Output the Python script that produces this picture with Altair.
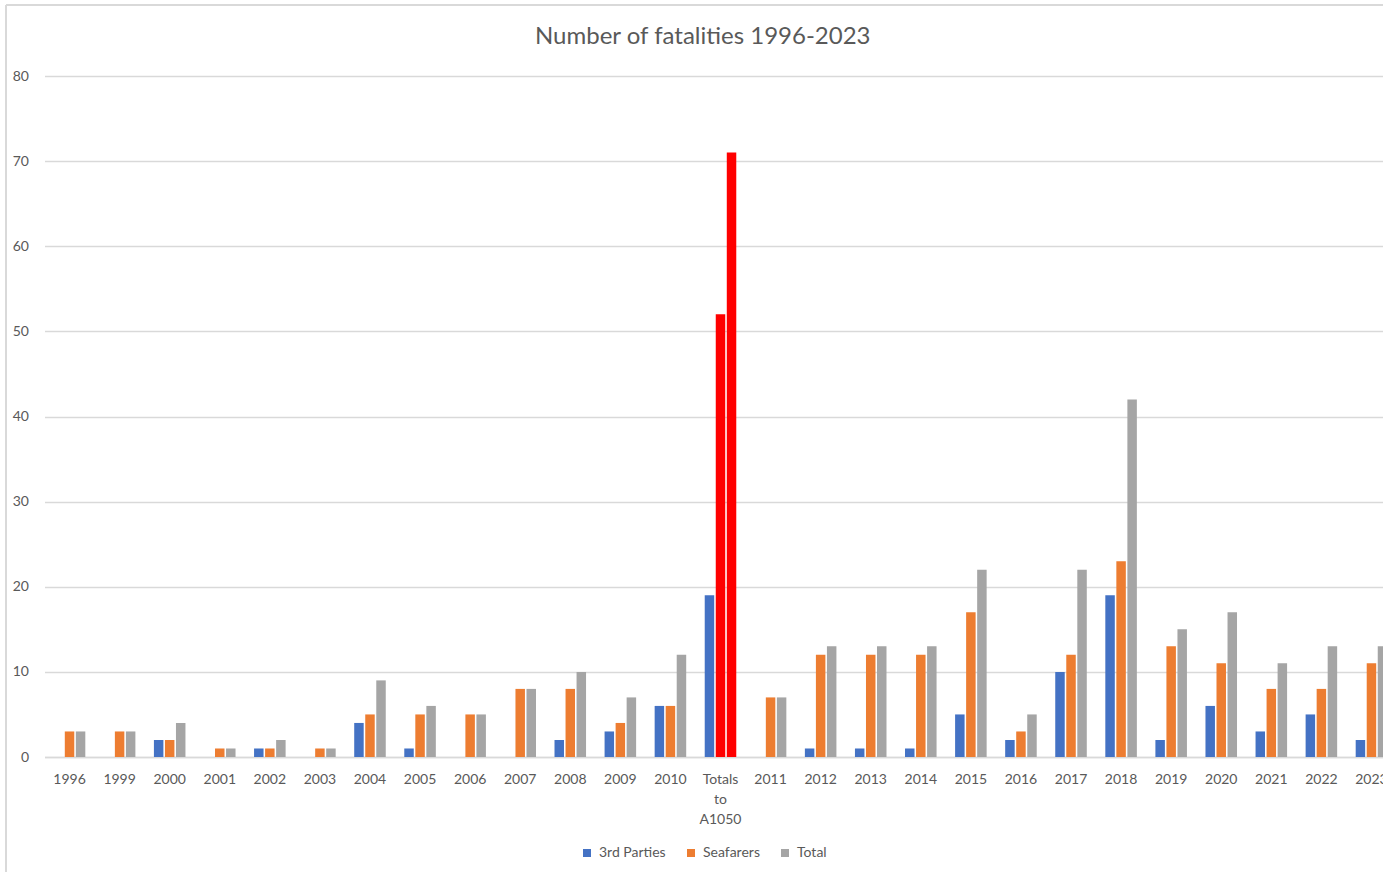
import altair as alt
import pandas as pd

categories = ["1996", "1999", "2000", "2001", "2002", "2003", "2004", "2005", "2006",
              "2007", "2008", "2009", "2010", "Totals to A1050", "2011", "2012", "2013",
              "2014", "2015", "2016", "2017", "2018", "2019", "2020", "2021", "2022", "2023"]
third_parties = [0, 0, 2, 0, 1, 0, 4, 1, 0, 0, 2, 3, 6, 19, 0, 1, 1, 1, 5, 2, 10, 19, 2, 6, 3, 5, 2]
seafarers = [3, 3, 2, 1, 1, 1, 5, 5, 5, 8, 8, 4, 6, 52, 7, 12, 12, 12, 17, 3, 12, 23, 13, 11, 8, 8, 11]
totals = [3, 3, 4, 1, 2, 1, 9, 6, 5, 8, 10, 7, 12, 71, 7, 13, 13, 13, 22, 5, 22, 42, 15, 17, 11, 13, 13]
series_names = ["3rd Parties", "Seafarers", "Total"]
series_colors = ["#4472C4", "#ED7D31", "#A5A5A5"]
highlight_category = "Totals to A1050"
highlight_color = "#FF0000"
y_ticks = [0, 10, 20, 30, 40, 50, 60, 70, 80]

rows = []
for i, c in enumerate(categories):
    for s, vals in zip(series_names, [third_parties, seafarers, totals]):
        rows.append({"category": c, "series": s, "value": vals[i]})
df = pd.DataFrame(rows)

FONT = "Lato"
TXT = "#595959"
GRID = "#D9D9D9"

cond = alt.datum.category == highlight_category
cond = cond & (alt.datum.series != "3rd Parties")

bars = alt.Chart(df).mark_bar().encode(
    x=alt.X("category:N", sort=categories,
            scale=alt.Scale(range=[0, 1352], paddingInner=0.37, paddingOuter=0.185),
            axis=alt.Axis(title=None, labelAngle=0, ticks=False, grid=False,
                          domain=True, domainColor=GRID, domainWidth=1.3,
                          labelFont=FONT, labelFontSize=14, labelColor=TXT,
                          labelPadding=15, labelLineHeight=20,
                          labelExpr="datum.value == 'Totals to A1050' ? ['Totals', 'to', 'A1050'] : datum.value")),
    xOffset=alt.XOffset("series:N", sort=series_names,
                        scale=alt.Scale(paddingInner=0.14, paddingOuter=0)),
    y=alt.Y("value:Q", scale=alt.Scale(domain=[0, 80]),
            axis=alt.Axis(title=None, values=y_ticks, domain=False, ticks=False,
                          grid=True, gridColor=GRID, gridWidth=1.3,
                          labelFont=FONT, labelFontSize=14, labelColor=TXT,
                          labelPadding=16)),
    color=alt.condition(
        cond,
        alt.value(highlight_color),
        alt.Color("series:N", sort=series_names,
                  scale=alt.Scale(domain=series_names, range=series_colors),
                  legend=alt.Legend(title=None, orient="none", legendX=535.5, legendY=770,
                                    direction="horizontal", symbolType="square",
                                    symbolSize=64, symbolStrokeWidth=0,
                                    labelFont=FONT, labelFontSize=14, labelColor=TXT,
                                    labelOffset=5, columnPadding=18)),
    ),
)

frame_df = pd.DataFrame({"k": [0]})
top_line = alt.Chart(frame_df).mark_rule(color=GRID, strokeWidth=2).encode(
    x=alt.value(-38.5), x2=alt.value(1400), y=alt.value(-71)
)
left_line = alt.Chart(frame_df).mark_rule(color=GRID, strokeWidth=2).encode(
    x=alt.value(-38.5), y=alt.value(-71), y2=alt.value(900)
)

chart = alt.layer(top_line, left_line, bars).properties(
    width=1338.5,
    height=681,
    autosize=alt.AutoSizeParams(type="none"),
    padding={"left": 44.5, "top": 76, "right": 0, "bottom": 115},
    title=alt.TitleParams("Number of fatalities 1996-2023", font=FONT, fontSize=24,
                          fontWeight="normal", color=TXT, anchor="middle", dx=-11,
                          baseline="alphabetic", offset=0, dy=64),
).configure_view(stroke=None)

chart.save("out.html", embed_options={"renderer": "svg", "actions": False})
